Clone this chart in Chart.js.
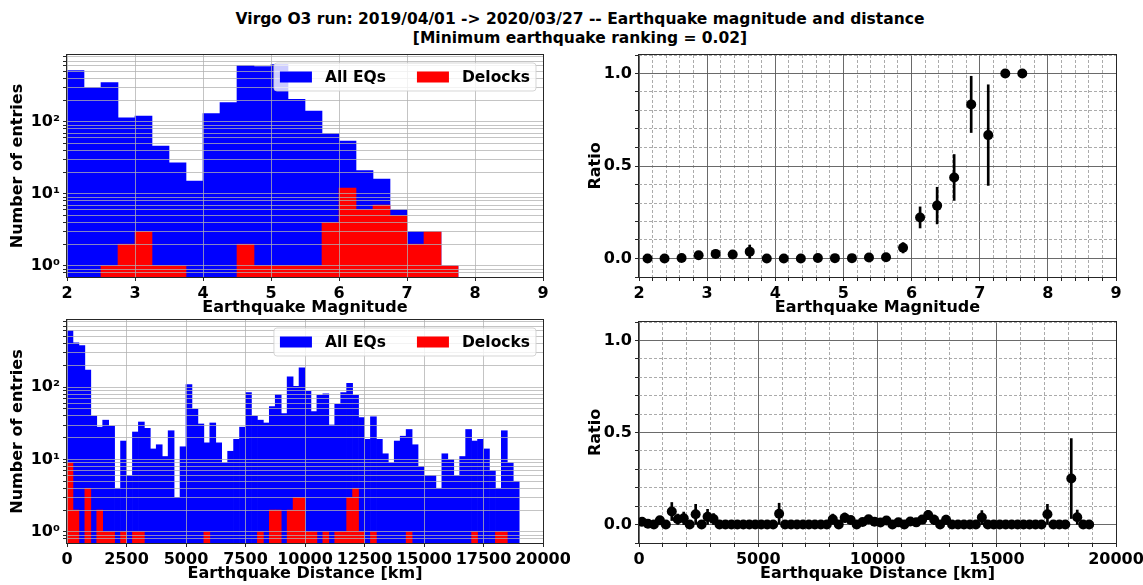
<!DOCTYPE html>
<html>
<head>
<meta charset="utf-8">
<script src="https://cdn.jsdelivr.net/npm/chart.js@4.4.0/dist/chart.umd.min.js"></script>
<style>
  body { margin: 0; background: #fff; width: 1143px; height: 585px; position: relative; overflow: hidden; }
  #title { position: absolute; left: 0; top: 10px; width: 1160px; text-align: center;
           font-family: 'DejaVu Sans', sans-serif; font-weight: bold; font-size: 15.5px; line-height: 18.5px; color: #000; }
  canvas { position: absolute; }
</style>
</head>
<body>
<div id="title">Virgo O3 run: 2019/04/01 -&gt; 2020/03/27 -- Earthquake magnitude and distance<br>[Minimum earthquake ranking = 0.02]</div>
<canvas id="magHist" width="570" height="272" style="left:0;top:45px"></canvas>
<canvas id="magRatio" width="573" height="272" style="left:570px;top:45px"></canvas>
<canvas id="distHist" width="570" height="268" style="left:0;top:317px"></canvas>
<canvas id="distRatio" width="573" height="268" style="left:570px;top:317px"></canvas>
<script>
// magnitude bins (0.25 wide)
const magCenters = [2.125, 2.375, 2.625, 2.875, 3.125, 3.375, 3.625, 3.875, 4.125, 4.375, 4.625, 4.875,
                    5.125, 5.375, 5.625, 5.875, 6.125, 6.375, 6.625, 6.875, 7.125, 7.375, 7.625];
const magAll = [516, 300, 352, 114, 120, 46, 27, 15, 130, 186, 605, 587, 626, 206, 141, 69, 54, 21, 16, 6, 3, 3, 1];
const magDelocks = [0, 0, 1, 2, 3, 1, 1, 0, 0, 0, 2, 1, 1, 1, 1, 4, 12, 6, 7, 5, 2, 3, 1];
const magRatio = [0, 0, 0.003, 0.018, 0.025, 0.022, 0.037, 0, 0, 0, 0.003, 0.002, 0.002, 0.005, 0.007,
                  0.058, 0.222, 0.286, 0.438, 0.833, 0.667, 1, 1];
const magRatioErr = [0, 0, 0.003, 0.012, 0.014, 0.022, 0.036, 0, 0, 0, 0.002, 0.002, 0.002, 0.005, 0.007,
                     0.028, 0.057, 0.099, 0.124, 0.152, 0.272, 0, 0];

// distance bins (250 km wide)
const distCenters = [125, 375, 625, 875, 1125, 1375, 1625, 1875, 2125, 2375,
  2625, 2875, 3125, 3375, 3625, 3875, 4125, 4375, 4625, 4875,
  5125, 5375, 5625, 5875, 6125, 6375, 6625, 6875, 7125, 7375,
  7625, 7875, 8125, 8375, 8625, 8875, 9125, 9375, 9625, 9875,
  10125, 10375, 10625, 10875, 11125, 11375, 11625, 11875, 12125, 12375,
  12625, 12875, 13125, 13375, 13625, 13875, 14125, 14375, 14625, 14875,
  15125, 15375, 15625, 15875, 16125, 16375, 16625, 16875, 17125, 17375,
  17625, 17875, 18125, 18375, 18625, 18875];
const distAll = [605, 410, 377, 172, 40, 28, 35, 29, 4, 18,
  6, 24, 33, 27, 14, 16, 11, 25, 3, 15,
  109, 50, 31, 17, 32, 17, 9, 13, 19, 28,
  84, 40, 35, 32, 54, 79, 43, 139, 103, 185,
  88, 46, 77, 81, 30, 58, 84, 113, 77, 38,
  19, 39, 19, 12, 9, 18, 21, 26, 16, 8,
  6, 6, 4, 12, 10, 6, 11, 26, 18, 19,
  14, 7, 4, 25, 9, 5];
const distDelocks = [9, 2, 0, 4, 0, 2, 1, 1, 0, 1,
  0, 1, 1, 0, 0, 0, 0, 0, 0, 0,
  0, 0, 0, 1, 0, 0, 0, 0, 0, 0,
  0, 0, 1, 0, 2, 2, 0, 2, 3, 3,
  1, 1, 0, 1, 0, 1, 1, 3, 4, 1,
  0, 1, 0, 0, 0, 0, 0, 1, 0, 0,
  0, 0, 0, 0, 0, 0, 0, 0, 1, 0,
  0, 0, 1, 1, 0, 0];
const distRatio = [0.015, 0.005, 0, 0.023, 0, 0.071, 0.029, 0.034, 0, 0.056,
  0, 0.042, 0.030, 0, 0, 0, 0, 0, 0, 0,
  0, 0, 0, 0.059, 0, 0, 0, 0, 0, 0,
  0, 0, 0.029, 0, 0.037, 0.025, 0, 0.014, 0.029, 0.016,
  0.011, 0.022, 0, 0.012, 0, 0.017, 0.012, 0.027, 0.052, 0.026,
  0, 0.026, 0, 0, 0, 0, 0, 0.038, 0, 0,
  0, 0, 0, 0, 0, 0, 0, 0, 0.056, 0,
  0, 0, 0.25, 0.04, 0, 0];
const distRatioErr = [0.005, 0.003, 0, 0.012, 0, 0.049, 0.028, 0.034, 0, 0.054,
  0, 0.041, 0.030, 0, 0, 0, 0, 0, 0, 0,
  0, 0, 0, 0.057, 0, 0, 0, 0, 0, 0,
  0, 0, 0.028, 0, 0.026, 0.018, 0, 0.010, 0.017, 0.009,
  0.011, 0.022, 0, 0.012, 0, 0.017, 0.012, 0.015, 0.025, 0.026,
  0, 0.025, 0, 0, 0, 0, 0, 0.038, 0, 0,
  0, 0, 0, 0, 0, 0, 0, 0, 0.054, 0,
  0, 0, 0.217, 0.039, 0, 0];

// log axis ticks of the histograms, labels only on decades
const logTickValues = [0.8, 0.9, 1, 2, 3, 4, 5, 6, 7, 8, 9, 10, 20, 30, 40, 50, 60, 70, 80, 90,
                       100, 200, 300, 400, 500, 600, 700, 800];
const logTickLabels = { 1: '10\u2070', 10: '10\u00b9', 100: '10\u00b2' };

const FAMILY = "'DejaVu Sans', 'Liberation Sans', sans-serif";
const boldFont = { family: FAMILY, weight: 'bold', size: 16 };
const HIST_GRID = 'rgba(176,176,176,0.75)';

// spines + matplotlib-like legend inside the axes
const framePlugin = {
  id: 'frame',
  afterDraw(chart, args, opts) {
    const ctx = chart.ctx;
    const a = chart.chartArea;
    ctx.save();
    ctx.strokeStyle = '#262626';
    ctx.lineWidth = 1;
    ctx.strokeRect(a.left - 0.5, a.top - 0.5, a.right - a.left + 1, a.bottom - a.top + 1);

    if (opts.legend) {
      const items = chart.data.datasets.filter(d => d.label);
      ctx.font = 'bold 15.5px ' + FAMILY;
      const pad = 6, handle = 32, gap = 13, colGap = 31, h = 28;
      const widths = items.map(d => ctx.measureText(d.label).width);
      let w = pad * 2 + colGap * (items.length - 1);
      widths.forEach(tw => { w += handle + gap + tw; });
      const x0 = a.right - 7 - w, y0 = a.top + 8;
      ctx.beginPath();
      if (ctx.roundRect) ctx.roundRect(x0, y0, w, h, 3); else ctx.rect(x0, y0, w, h);
      ctx.fillStyle = 'rgba(255,255,255,0.8)';
      ctx.fill();
      ctx.strokeStyle = 'rgba(204,204,204,0.8)';
      ctx.stroke();
      let x = x0 + pad;
      items.forEach((d, i) => {
        ctx.fillStyle = d.backgroundColor;
        ctx.fillRect(x, y0 + h / 2 - 5.5, handle, 11);
        x += handle + gap;
        ctx.fillStyle = '#000';
        ctx.textBaseline = 'middle';
        ctx.fillText(d.label, x, y0 + h / 2 + 1);
        x += widths[i] + colGap;
      });
    }
    ctx.restore();
  }
};

function fixWidth(w) {
  return s => { s.width = w; s.paddingTop = 0; s.paddingBottom = 0; };
}
function fixHeight(h) {
  return s => { s.height = h; s.paddingLeft = 0; s.paddingRight = 0; };
}

function makeHist(id, centers, all, delocks, x, sizes) {
  const toPoints = arr => centers.map((c, i) => ({ x: c, y: arr[i] > 0 ? arr[i] : null }));
  return new Chart(document.getElementById(id), {
    type: 'bar',
    data: {
      datasets: [
        { label: 'All EQs', data: toPoints(all), backgroundColor: '#0000ff', order: 2,
          grouped: false, barPercentage: 1, categoryPercentage: 1, borderWidth: 0 },
        { label: 'Delocks', data: toPoints(delocks), backgroundColor: '#ff0000', order: 1,
          grouped: false, barPercentage: 1, categoryPercentage: 1, borderWidth: 0 }
      ]
    },
    options: {
      responsive: false,
      animation: false,
      devicePixelRatio: 1,
      layout: { padding: { top: sizes.top, right: sizes.right, left: 0, bottom: 0 } },
      plugins: { legend: { display: false }, tooltip: { enabled: false }, frame: { legend: true } },
      scales: {
        x: {
          type: 'linear', min: x.min, max: x.max, offset: false,
          ticks: { stepSize: x.step, callback: v => String(v), font: boldFont, color: '#000',
                   padding: 3, maxRotation: 0, autoSkip: false },
          grid: { color: HIST_GRID, z: 1, offset: false, tickColor: '#262626', tickLength: 4 },
          border: { display: false },
          title: { display: true, text: x.title, font: boldFont, color: '#000', padding: { top: 0, bottom: sizes.titleBottom } },
          afterFit: fixHeight(sizes.xHeight)
        },
        y: {
          type: 'logarithmic', min: 0.72, max: 850,
          afterBuildTicks: s => { s.ticks = logTickValues.map(v => ({ value: v })); },
          ticks: { callback: v => logTickLabels[v] || '', font: boldFont, color: '#000', padding: 3, autoSkip: false },
          grid: { color: HIST_GRID, z: 1, tickColor: '#262626', tickLength: 4 },
          border: { display: false },
          title: { display: true, text: 'Number of entries', font: boldFont, color: '#000', padding: { top: 8, bottom: 0 } },
          afterFit: fixWidth(67)
        }
      }
    },
    plugins: [framePlugin]
  });
}

function makeRatio(id, centers, ratio, err, x, sizes) {
  const isMajorY = v => Math.abs(v * 2 - Math.round(v * 2)) < 1e-6;
  const gridColor = isMajor => ctx => (ctx.tick && isMajor(ctx.tick.value)) ? 'rgba(90,90,90,0.9)' : 'rgba(150,150,150,0.8)';
  const gridDash = isMajor => ctx => (ctx.tick && !isMajor(ctx.tick.value)) ? [3, 2] : [];
  return new Chart(document.getElementById(id), {
    type: 'scatter',
    data: {
      datasets: [
        { type: 'scatter', data: centers.map((c, i) => ({ x: c, y: ratio[i] })), order: 1,
          pointRadius: 5, pointBackgroundColor: '#000', pointBorderColor: '#000', pointBorderWidth: 0 },
        { type: 'bar', data: centers.map((c, i) => ({ x: c, y: [ratio[i] - err[i], ratio[i] + err[i]] })), order: 2,
          backgroundColor: '#000', barThickness: 2, grouped: false, borderWidth: 0 }
      ]
    },
    options: {
      responsive: false,
      animation: false,
      devicePixelRatio: 1,
      layout: { padding: { top: sizes.top, right: sizes.right, left: 0, bottom: 0 } },
      plugins: { legend: { display: false }, tooltip: { enabled: false }, frame: { legend: false } },
      scales: {
        x: {
          type: 'linear', min: x.min, max: x.max, offset: false,
          ticks: { stepSize: x.step, callback: v => x.isMajor(v) ? String(v) : '', font: boldFont, color: '#000',
                   padding: 3, maxRotation: 0, autoSkip: false },
          grid: { color: gridColor(x.isMajor), offset: false, tickColor: '#262626', tickLength: 4 },
          border: { display: false, dash: gridDash(x.isMajor) },
          title: { display: true, text: x.title, font: boldFont, color: '#000', padding: { top: 0, bottom: sizes.titleBottom } },
          afterFit: fixHeight(sizes.xHeight)
        },
        y: {
          type: 'linear', min: -0.1, max: 1.1,
          ticks: { stepSize: 0.1, callback: v => isMajorY(v) ? v.toFixed(1) : '', font: boldFont, color: '#000',
                   padding: 3, autoSkip: false },
          grid: { color: gridColor(isMajorY), tickColor: '#262626', tickLength: 4 },
          border: { display: false, dash: gridDash(isMajorY) },
          title: { display: true, text: 'Ratio', font: boldFont, color: '#000', padding: { top: 16, bottom: 0 } },
          afterFit: fixWidth(69)
        }
      }
    },
    plugins: [framePlugin]
  });
}

const topSizes = { top: 10, right: 27, xHeight: 40, titleBottom: 0 };
const bottomSizes = { top: 3, right: 27, xHeight: 42, titleBottom: 2 };

makeHist('magHist', magCenters, magAll, magDelocks,
  { min: 2, max: 9, step: 1, title: 'Earthquake Magnitude' }, topSizes);
makeHist('distHist', distCenters, distAll, distDelocks,
  { min: 0, max: 20000, step: 2500, title: 'Earthquake Distance [km]' }, bottomSizes);
makeRatio('magRatio', magCenters, magRatio, magRatioErr,
  { min: 2, max: 9, step: 0.2, title: 'Earthquake Magnitude', isMajor: v => Math.abs(v - Math.round(v)) < 1e-6 }, topSizes);
makeRatio('distRatio', distCenters, distRatio, distRatioErr,
  { min: 0, max: 20000, step: 1000, title: 'Earthquake Distance [km]', isMajor: v => v % 5000 === 0 }, bottomSizes);
</script>
</body>
</html>
